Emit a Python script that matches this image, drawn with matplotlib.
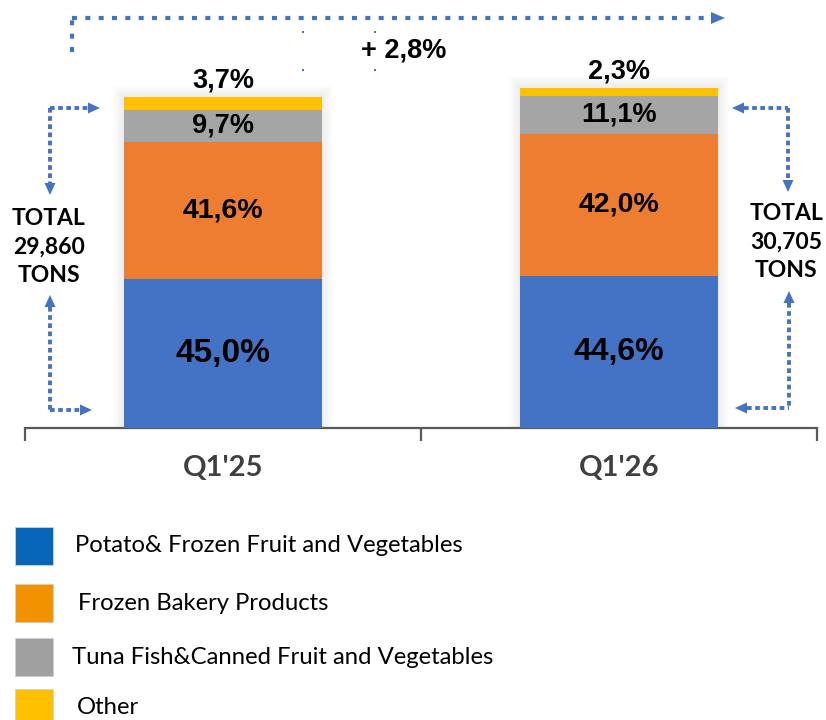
import matplotlib
matplotlib.use("Agg")
import matplotlib.pyplot as plt
from matplotlib.patches import Rectangle, Polygon

# ---- data ----
periods = ["Q1'25", "Q1'26"]
totals = [29860, 30705]
segments = ["Potato& Frozen Fruit and Vegetables", "Frozen Bakery Products",
            "Tuna Fish&Canned Fruit and Vegetables", "Other"]
shares = {
    "Potato& Frozen Fruit and Vegetables": [45.0, 44.6],
    "Frozen Bakery Products": [41.6, 42.0],
    "Tuna Fish&Canned Fruit and Vegetables": [9.7, 11.1],
    "Other": [3.7, 2.3],
}
growth_label = "+ 2,8%"
total_labels = ["TOTAL\n29,860\nTONS", "TOTAL\n30,705\nTONS"]

bar_colors = ["#4472C4", "#ED7D31", "#A5A5A5", "#FFC000"]
legend_colors = ["#0866B8", "#F39200", "#A0A0A0", "#FFC000"]
label_sizes = [[24, 23], [20.5, 20.5], [19.5, 19.5], [19.5, 19.5]]
arrow_blue = "#4472C4"

W, H = 826, 720
fig = plt.figure(figsize=(W / 100, H / 100), dpi=100)
fig.patch.set_facecolor("white")

def fx(px):
    return px / W

def fy(py):
    return 1 - py / H

# main axes: x pixels 25..817, y baseline at 428 (pixel), top at 0
ax = fig.add_axes([fx(25), fy(428), fx(817) - fx(25), 428 / H])
ax.set_xlim(-0.5, 1.5)
ax.set_ylim(0, 428 * 90.3)
ax.patch.set_alpha(0)
for s in ["left", "right", "top"]:
    ax.spines[s].set_visible(False)
ax.spines["bottom"].set_color("#595959")
ax.spines["bottom"].set_linewidth(1.6)
ax.set_yticks([])
ax.set_xticks([-0.5, 0.5, 1.5])
ax.set_xticklabels([])
ax.tick_params(axis="x", direction="out", length=9, width=1.6, color="#595959")

x = list(range(len(periods)))
bw = 0.5

# soft shadow behind bars
for k in range(10):
    ax.bar(x, [t * (1 + 0.004 * k) for t in totals], width=bw + 0.006 * k,
           color="black", alpha=0.008, zorder=1, linewidth=0)

bottoms = [0.0, 0.0]
for i, seg in enumerate(segments):
    vals = [totals[j] * shares[seg][j] / 100 for j in range(len(periods))]
    ax.bar(x, vals, width=bw, bottom=bottoms, color=bar_colors[i], zorder=3, linewidth=0)
    for j in range(len(periods)):
        txt = f"{shares[seg][j]:.1f}".replace(".", ",") + "%"
        if seg == "Other":
            ax.annotate(txt, (x[j], bottoms[j] + vals[j]), xytext=(0, 12), textcoords="offset points",
                        ha="center", va="center", fontsize=label_sizes[i][j], fontweight="bold",
                        family="Liberation Sans", color="black", zorder=5)
        else:
            ax.text(x[j], bottoms[j] + vals[j] / 2, txt, ha="center", va="center",
                    fontsize=label_sizes[i][j], fontweight="bold", family="Liberation Sans",
                    color="black", zorder=5)
    bottoms = [bottoms[j] + vals[j] for j in range(len(periods))]

for j, p in enumerate(periods):
    ax.text(x[j], -40 / 428, p, transform=ax.get_xaxis_transform(), ha="center", va="center",
            fontsize=21, fontweight="bold", family="Lato", color="#404040")

# overlay for annotations in pixel coordinates
ov = fig.add_axes([0, 0, 1, 1], facecolor="none")
ov.set_xlim(0, W)
ov.set_ylim(H, 0)
ov.axis("off")

def dotted(xs, ys, dash=(1.2, 0.9), lw=2.8):
    ov.plot(xs, ys, color=arrow_blue, lw=lw, linestyle=(0, dash), solid_capstyle="butt",
            dash_capstyle="butt")

def head(tipx, tipy, direction, L=12, Wd=11):
    if direction == "right":
        pts = [(tipx, tipy), (tipx - L, tipy - Wd / 2), (tipx - L, tipy + Wd / 2)]
    elif direction == "left":
        pts = [(tipx, tipy), (tipx + L, tipy - Wd / 2), (tipx + L, tipy + Wd / 2)]
    elif direction == "down":
        pts = [(tipx, tipy), (tipx - Wd / 2, tipy - L), (tipx + Wd / 2, tipy - L)]
    else:
        pts = [(tipx, tipy), (tipx - Wd / 2, tipy + L), (tipx + Wd / 2, tipy + L)]
    ov.add_patch(Polygon(pts, closed=True, color=arrow_blue, lw=0))

# top bracket
dotted([72, 72], [52, 18], dash=(1.2, 2.0), lw=3.0)
dotted([72, 712], [18, 18], dash=(1.2, 2.0), lw=3.0)
head(725, 18, "right", L=14, Wd=12)
for px in (303, 375):
    for py in (32, 70):
        ov.plot([px], [py], marker="s", ms=1.6, color=arrow_blue, mew=0)
ov.text(404, 50, growth_label, ha="center", va="center", fontsize=19.5, fontweight="bold",
        family="Liberation Sans", color="black")

# left brackets
dotted([50, 88], [108, 108])
head(100, 108, "right")
dotted([50, 50], [108, 183])
head(50, 195, "down")
dotted([50, 50], [307, 410])
head(50, 295, "up")
dotted([50, 80], [410, 410])
head(92, 410, "right")

# right brackets
dotted([744, 788], [108, 108])
head(732, 108, "left")
dotted([788, 788], [108, 180])
head(788, 192, "down")
dotted([789, 789], [303, 408])
head(789, 291, "up")
dotted([747, 789], [408, 408])
head(735, 408, "left")

ov.text(49, 247, total_labels[0], ha="center", va="center", fontsize=16.5, fontweight="bold",
        family="Lato", color="black", linespacing=1.42)
ov.text(786, 242, total_labels[1], ha="center", va="center", fontsize=16.5, fontweight="bold",
        family="Lato", color="black", linespacing=1.42)

# legend (manual)
leg_y = [546, 603, 657, 708]
leg_tx = [75, 78, 72, 77]
for i, seg in enumerate(segments):
    ov.add_patch(Rectangle((15, leg_y[i] - 19), 38, 38, facecolor=legend_colors[i],
                           edgecolor="#d0d0d0", lw=0.6))
    ov.text(leg_tx[i], leg_y[i], seg, ha="left", va="center", fontsize=17.2,
            family="Lato", color="black")

fig.savefig("out.png", dpi=100)
